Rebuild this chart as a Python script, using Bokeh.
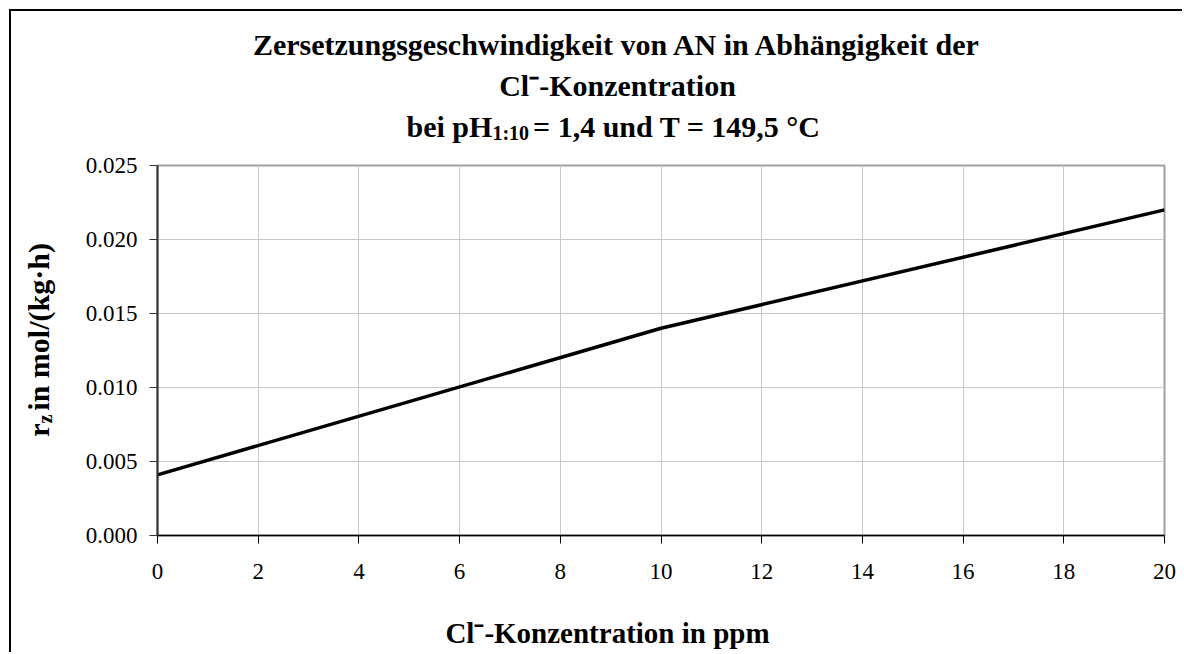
import math
from bokeh.plotting import figure
from bokeh.models import Range1d, FixedTicker, PrintfTickFormatter, Label
from bokeh.embed import file_html
from bokeh.resources import INLINE

# Measured decomposition rate of AN vs. chloride concentration
cl_ppm = [0, 10, 20]
r_z = [0.0041, 0.0140, 0.0220]

x_ticks = [0, 2, 4, 6, 8, 10, 12, 14, 16, 18, 20]
y_ticks = [0.000, 0.005, 0.010, 0.015, 0.020, 0.025]

title_main = "Zersetzungsgeschwindigkeit von AN in Abhängigkeit der"
title_ion = "Cl⁻-Konzentration"
title_cond = ["bei pH", "1:10", " = 1,4 und T = 149,5 °C"]
x_title = "Cl⁻-Konzentration in ppm"
y_title = ["r", "z", " in mol/(kg·h)"]

W, H = 1184, 654          # page size
OFF = 11                  # chart box starts here (border drawn just before)
FL, FR, FT, FB = 157, 1164, 165, 535   # plot frame edges in page pixels
X0, X1 = 0, 20
Y0, Y1 = 0.0, 0.025

FONT = "Liberation Serif"

p = figure(width=W - OFF, height=H - OFF,
           output_backend="svg", toolbar_location=None,
           x_range=Range1d(X0, X1), y_range=Range1d(Y0, Y1),
           min_border_left=FL - OFF, min_border_right=W - FR,
           min_border_top=FT - OFF, min_border_bottom=H - FB,
           margin=(OFF - 2, 0, 0, OFF - 2),
           styles={"border-left": "2px solid #000",
                   "border-top": "2px solid #000",
                   "border-right": "0px none",
                   "border-bottom": "0px none"})
p.background_fill_color = "white"
p.border_fill_color = "white"
p.outline_line_color = "#a0a0a0"
p.outline_line_width = 2

p.line(cl_ppm, r_z, line_color="black", line_width=3.5)

p.xaxis.ticker = FixedTicker(ticks=x_ticks)
p.yaxis.ticker = FixedTicker(ticks=y_ticks)
p.yaxis.formatter = PrintfTickFormatter(format="%.3f")
for ax in (p.xaxis, p.yaxis):
    ax.major_label_text_font = FONT
    ax.major_label_text_font_size = "23px"
    ax.major_label_text_color = "black"
    ax.major_tick_in = 0
    ax.major_tick_out = 8
    ax.minor_tick_in = 0
    ax.minor_tick_out = 0
p.xaxis.axis_line_color = "black"
p.xaxis.axis_line_width = 1.5
p.xaxis.major_tick_line_color = "black"
p.xaxis.major_label_standoff = 20
p.yaxis.axis_line_color = "#333333"
p.yaxis.axis_line_width = 2
p.yaxis.major_tick_line_color = "#333333"
p.yaxis.major_label_standoff = 12

p.xgrid.grid_line_color = "#c8c8c8"
p.ygrid.grid_line_color = "#c8c8c8"


def dx(px):
    return X0 + (px - FL) / (FR - FL) * (X1 - X0)


def dy(py):
    return Y0 + (FB - py) / (FB - FT) * (Y1 - Y0)


# Times-compatible advance widths (per 1000 em) for bold text
BOLD_W = {
    " ": 250, "-": 333, "=": 570, ",": 250, ":": 333, "°": 400, "/": 278,
    "(": 333, ")": 333, "·": 250,
    "A": 722, "C": 722, "H": 778, "K": 778, "N": 722, "T": 667, "Z": 667,
    "a": 500, "b": 556, "c": 444, "d": 556, "e": 444, "g": 500, "h": 556,
    "i": 278, "k": 556, "l": 278, "m": 833, "n": 556, "o": 500, "p": 556,
    "r": 444, "s": 389, "t": 333, "u": 556, "v": 500, "w": 722, "z": 444,
    "ä": 500,
}


def text_w(s, size):
    return sum(BOLD_W.get(ch, 500) for ch in s) / 1000.0 * size


def put(txt, px, py, size, side, align="left", angle=0.0):
    # labels live in the side panels so they are not clipped to the frame
    p.add_layout(Label(x=dx(px), y=dy(py), text=txt, angle=angle,
                       text_font=FONT, text_font_style="bold",
                       text_font_size=f"{size}px", text_color="black",
                       text_align=align, text_baseline="alphabetic"), side)


# chart title, three centred lines
TCX = 617
put(title_main, TCX, 44, 30, "above", align="center")
put(title_ion, TCX, 85, 30, "above", align="center")
sizes = [30, 20, 30]
gaps = [0, 4, 0]          # extra room after each piece
total = sum(text_w(t, s) + g for t, s, g in zip(title_cond, sizes, gaps))
x = TCX - total / 2
for t, s, sh, g in zip(title_cond, sizes, [0, 6, 0], gaps):
    put(t, x, 126 + sh, s, "above")
    x += text_w(t, s) + g

# x axis title
put(x_title, 607, 632, 29, "below", align="center")

# y axis title, rotated, reading upwards
total = sum(text_w(t, s) + g for t, s, g in zip(y_title, sizes, gaps))
ypos = 337 + total / 2
for t, s, sh, g, side in zip(y_title, sizes, [0, 6, 0], gaps,
                             ["left", "below", "left"]):
    put(t, 38 + sh, ypos, s, side, angle=math.pi / 2)
    ypos -= text_w(t, s) + g

open("out.html", "w").write(file_html(p, INLINE))
